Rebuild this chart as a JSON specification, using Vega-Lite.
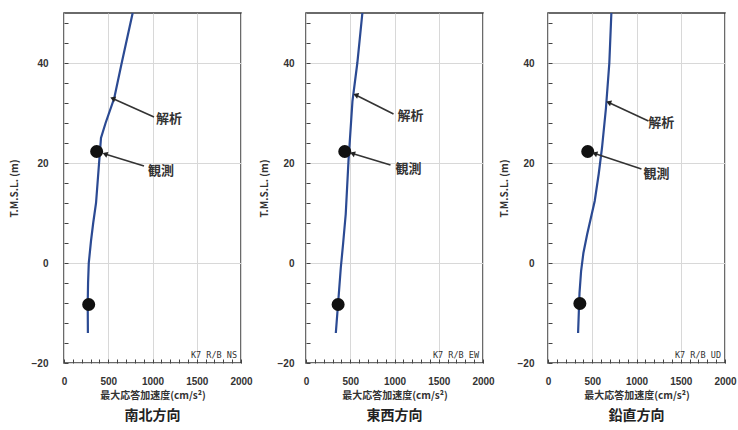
{
  "$schema": "https://vega.github.io/schema/vega-lite/v6.json",
  "background": "white",
  "padding": {"left": 8, "top": 7, "right": 0, "bottom": 0},
  "spacing": 65,
  "bounds": "flush",
  "config": {
    "view": {"stroke": "#3a3a3a", "strokeWidth": 1.5},
    "font": "Noto Sans CJK JP",
    "axis": {
      "labelFont": "Liberation Sans", "labelFontSize": 10, "labelColor": "#333", "labelFontWeight": "bold",
      "titleFont": "Noto Sans CJK JP", "titleFontSize": 10, "titleColor": "#333", "titleFontWeight": "bold",
      "domain": false, "tickColor": "#444", "tickSize": -4, "tickWidth": 1, "format": "d",
      "gridColor": "#d8d8d8", "gridWidth": 1
    },
    "title": {"orient": "bottom", "font": "Noto Sans CJK JP", "fontSize": 14, "fontWeight": "bold", "color": "#222", "offset": 9}
  },
  "datasets": {
    "curve": [
      {"dir": "NS", "ord": 1, "acc": 776, "elev": 50},
      {"dir": "NS", "ord": 2, "acc": 652, "elev": 40},
      {"dir": "NS", "ord": 3, "acc": 568, "elev": 33},
      {"dir": "NS", "ord": 4, "acc": 470, "elev": 28},
      {"dir": "NS", "ord": 5, "acc": 418, "elev": 25},
      {"dir": "NS", "ord": 6, "acc": 392, "elev": 19},
      {"dir": "NS", "ord": 7, "acc": 362, "elev": 12},
      {"dir": "NS", "ord": 8, "acc": 330, "elev": 8},
      {"dir": "NS", "ord": 9, "acc": 305, "elev": 4.4},
      {"dir": "NS", "ord": 10, "acc": 280, "elev": 0},
      {"dir": "NS", "ord": 11, "acc": 272, "elev": -4},
      {"dir": "NS", "ord": 12, "acc": 268, "elev": -8},
      {"dir": "NS", "ord": 13, "acc": 270, "elev": -14},
      {"dir": "EW", "ord": 1, "acc": 637, "elev": 50},
      {"dir": "EW", "ord": 2, "acc": 580, "elev": 40},
      {"dir": "EW", "ord": 3, "acc": 525, "elev": 32.4},
      {"dir": "EW", "ord": 4, "acc": 480, "elev": 20.4},
      {"dir": "EW", "ord": 5, "acc": 449, "elev": 9.8},
      {"dir": "EW", "ord": 6, "acc": 420, "elev": 4},
      {"dir": "EW", "ord": 7, "acc": 393, "elev": -1},
      {"dir": "EW", "ord": 8, "acc": 363, "elev": -8},
      {"dir": "EW", "ord": 9, "acc": 337, "elev": -14},
      {"dir": "UD", "ord": 1, "acc": 716, "elev": 50},
      {"dir": "UD", "ord": 2, "acc": 693, "elev": 40},
      {"dir": "UD", "ord": 3, "acc": 655, "elev": 31},
      {"dir": "UD", "ord": 4, "acc": 610, "elev": 23},
      {"dir": "UD", "ord": 5, "acc": 573, "elev": 17.8},
      {"dir": "UD", "ord": 6, "acc": 528, "elev": 12.4},
      {"dir": "UD", "ord": 7, "acc": 442, "elev": 5.7},
      {"dir": "UD", "ord": 8, "acc": 400, "elev": 2},
      {"dir": "UD", "ord": 9, "acc": 374, "elev": -1.6},
      {"dir": "UD", "ord": 10, "acc": 356, "elev": -6},
      {"dir": "UD", "ord": 11, "acc": 348, "elev": -10},
      {"dir": "UD", "ord": 12, "acc": 340, "elev": -14}
    ],
    "obs": [
      {"dir": "NS", "acc": 369, "elev": 22.3},
      {"dir": "NS", "acc": 279, "elev": -8.3},
      {"dir": "EW", "acc": 438, "elev": 22.3},
      {"dir": "EW", "acc": 363, "elev": -8.3},
      {"dir": "UD", "acc": 449, "elev": 22.3},
      {"dir": "UD", "acc": 360, "elev": -8.1}
    ],
    "notes": [
      {"dir": "NS", "label": "解析", "tipx": 550, "tipy": 32.9, "tailx": 1017, "taily": 29.2, "textx": 1186, "texty": 28.8},
      {"dir": "NS", "label": "観測", "tipx": 463, "tipy": 21.8, "tailx": 904, "taily": 19.4, "textx": 1096, "texty": 18.4},
      {"dir": "EW", "label": "解析", "tipx": 562, "tipy": 33.6, "tailx": 989, "taily": 29.8, "textx": 1180, "texty": 29.4},
      {"dir": "EW", "label": "観測", "tipx": 525, "tipy": 21.9, "tailx": 955, "taily": 19.6, "textx": 1157, "texty": 18.8},
      {"dir": "UD", "label": "解析", "tipx": 685, "tipy": 32.1, "tailx": 1135, "taily": 28.4, "textx": 1281, "texty": 28},
      {"dir": "UD", "label": "観測", "tipx": 528, "tipy": 21.9, "tailx": 1056, "taily": 18.8, "textx": 1225, "texty": 17.8}
    ],
    "tags": [
      {"dir": "NS", "tag": "K7 R/B NS"},
      {"dir": "EW", "tag": "K7 R/B EW"},
      {"dir": "UD", "tag": "K7 R/B UD"}
    ]
  },
  "hconcat": [
    {
      "width": 177, "height": 350,
      "title": "南北方向",
      "encoding": {
        "x": {"type": "quantitative", "scale": {"domain": [0, 2000], "nice": false},
              "axis": {"title": "最大応答加速度(cm/s²)", "values": [0,100,200,300,400,500,600,700,800,900,1000,1100,1200,1300,1400,1500,1600,1700,1800,1900,2000],
                       "labelExpr": "datum.value % 500 === 0 ? datum.label : ''",
                       "gridOpacity": {"condition": {"test": "datum.value % 500 === 0", "value": 1}, "value": 0},
                       "labelPadding": 17, "titlePadding": 4, "labelFlush": false}},
        "y": {"type": "quantitative", "scale": {"domain": [-20, 50], "nice": false},
              "axis": {"title": "T.M.S.L. (m)", "values": [-20,-16,-12,-8,-4,0,4,8,12,16,20,24,28,32,36,40,44,48],
                       "labelExpr": "datum.value % 20 === 0 ? datum.label : ''",
                       "gridOpacity": {"condition": {"test": "datum.value % 20 === 0", "value": 1}, "value": 0},
                       "labelPadding": 20, "titlePadding": 12, "labelFlush": false}}
      },
      "layer": [
        {"data": {"name": "curve"}, "transform": [{"filter": "datum.dir === 'NS'"}],
         "mark": {"type": "line", "color": "#2b4a93", "strokeWidth": 2.2},
         "encoding": {"x": {"field": "acc"}, "y": {"field": "elev"}, "order": {"field": "ord"}}},
        {"data": {"name": "obs"}, "transform": [{"filter": "datum.dir === 'NS'"}],
         "mark": {"type": "circle", "color": "#111", "opacity": 1, "size": 170},
         "encoding": {"x": {"field": "acc"}, "y": {"field": "elev"}}},
        {"data": {"name": "notes"}, "transform": [{"filter": "datum.dir === 'NS'"}],
         "mark": {"type": "rule", "color": "#333", "strokeWidth": 1.6},
         "encoding": {"x": {"field": "tailx"}, "y": {"field": "taily"}, "x2": {"field": "tipx"}, "y2": {"field": "tipy"}}},
        {"data": {"name": "notes"}, "transform": [{"filter": "datum.dir === 'NS'"}],
         "mark": {"type": "point", "shape": "triangle-up", "filled": true, "color": "#222", "opacity": 1, "size": 35, "angle": 290},
         "encoding": {"x": {"field": "tipx"}, "y": {"field": "tipy"}}},
        {"data": {"name": "notes"}, "transform": [{"filter": "datum.dir === 'NS'"}],
         "mark": {"type": "text", "font": "Noto Sans CJK JP", "fontSize": 13, "fontWeight": "bold", "color": "#333", "align": "center", "baseline": "middle"},
         "encoding": {"x": {"field": "textx"}, "y": {"field": "texty"}, "text": {"field": "label"}}},
        {"data": {"name": "tags"}, "transform": [{"filter": "datum.dir === 'NS'"}],
         "mark": {"type": "text", "font": "DejaVu Sans Mono", "fontSize": 8.5, "color": "#333", "align": "right", "baseline": "bottom", "dx": -4, "dy": -3},
         "encoding": {"x": {"datum": 2000}, "y": {"datum": -20}, "text": {"field": "tag"}}}
      ]
    },
    {
      "width": 177, "height": 350,
      "title": "東西方向",
      "encoding": {
        "x": {"type": "quantitative", "scale": {"domain": [0, 2000], "nice": false},
              "axis": {"title": "最大応答加速度(cm/s²)", "values": [0,100,200,300,400,500,600,700,800,900,1000,1100,1200,1300,1400,1500,1600,1700,1800,1900,2000],
                       "labelExpr": "datum.value % 500 === 0 ? datum.label : ''",
                       "gridOpacity": {"condition": {"test": "datum.value % 500 === 0", "value": 1}, "value": 0},
                       "labelPadding": 17, "titlePadding": 4, "labelFlush": false}},
        "y": {"type": "quantitative", "scale": {"domain": [-20, 50], "nice": false},
              "axis": {"title": "T.M.S.L. (m)", "values": [-20,-16,-12,-8,-4,0,4,8,12,16,20,24,28,32,36,40,44,48],
                       "labelExpr": "datum.value % 20 === 0 ? datum.label : ''",
                       "gridOpacity": {"condition": {"test": "datum.value % 20 === 0", "value": 1}, "value": 0},
                       "labelPadding": 16, "titlePadding": 8, "labelFlush": false}}
      },
      "layer": [
        {"data": {"name": "curve"}, "transform": [{"filter": "datum.dir === 'EW'"}],
         "mark": {"type": "line", "color": "#2b4a93", "strokeWidth": 2.2},
         "encoding": {"x": {"field": "acc"}, "y": {"field": "elev"}, "order": {"field": "ord"}}},
        {"data": {"name": "obs"}, "transform": [{"filter": "datum.dir === 'EW'"}],
         "mark": {"type": "circle", "color": "#111", "opacity": 1, "size": 170},
         "encoding": {"x": {"field": "acc"}, "y": {"field": "elev"}}},
        {"data": {"name": "notes"}, "transform": [{"filter": "datum.dir === 'EW'"}],
         "mark": {"type": "rule", "color": "#333", "strokeWidth": 1.6},
         "encoding": {"x": {"field": "tailx"}, "y": {"field": "taily"}, "x2": {"field": "tipx"}, "y2": {"field": "tipy"}}},
        {"data": {"name": "notes"}, "transform": [{"filter": "datum.dir === 'EW'"}],
         "mark": {"type": "point", "shape": "triangle-up", "filled": true, "color": "#222", "opacity": 1, "size": 35, "angle": 290},
         "encoding": {"x": {"field": "tipx"}, "y": {"field": "tipy"}}},
        {"data": {"name": "notes"}, "transform": [{"filter": "datum.dir === 'EW'"}],
         "mark": {"type": "text", "font": "Noto Sans CJK JP", "fontSize": 13, "fontWeight": "bold", "color": "#333", "align": "center", "baseline": "middle"},
         "encoding": {"x": {"field": "textx"}, "y": {"field": "texty"}, "text": {"field": "label"}}},
        {"data": {"name": "tags"}, "transform": [{"filter": "datum.dir === 'EW'"}],
         "mark": {"type": "text", "font": "DejaVu Sans Mono", "fontSize": 8.5, "color": "#333", "align": "right", "baseline": "bottom", "dx": -4, "dy": -3},
         "encoding": {"x": {"datum": 2000}, "y": {"datum": -20}, "text": {"field": "tag"}}}
      ]
    },
    {
      "width": 177, "height": 350,
      "title": "鉛直方向",
      "encoding": {
        "x": {"type": "quantitative", "scale": {"domain": [0, 2000], "nice": false},
              "axis": {"title": "最大応答加速度(cm/s²)", "values": [0,100,200,300,400,500,600,700,800,900,1000,1100,1200,1300,1400,1500,1600,1700,1800,1900,2000],
                       "labelExpr": "datum.value % 500 === 0 ? datum.label : ''",
                       "gridOpacity": {"condition": {"test": "datum.value % 500 === 0", "value": 1}, "value": 0},
                       "labelPadding": 17, "titlePadding": 4, "labelFlush": false}},
        "y": {"type": "quantitative", "scale": {"domain": [-20, 50], "nice": false},
              "axis": {"title": "T.M.S.L. (m)", "values": [-20,-16,-12,-8,-4,0,4,8,12,16,20,24,28,32,36,40,44,48],
                       "labelExpr": "datum.value % 20 === 0 ? datum.label : ''",
                       "gridOpacity": {"condition": {"test": "datum.value % 20 === 0", "value": 1}, "value": 0},
                       "labelPadding": 18, "titlePadding": 8, "labelFlush": false}}
      },
      "layer": [
        {"data": {"name": "curve"}, "transform": [{"filter": "datum.dir === 'UD'"}],
         "mark": {"type": "line", "color": "#2b4a93", "strokeWidth": 2.2},
         "encoding": {"x": {"field": "acc"}, "y": {"field": "elev"}, "order": {"field": "ord"}}},
        {"data": {"name": "obs"}, "transform": [{"filter": "datum.dir === 'UD'"}],
         "mark": {"type": "circle", "color": "#111", "opacity": 1, "size": 170},
         "encoding": {"x": {"field": "acc"}, "y": {"field": "elev"}}},
        {"data": {"name": "notes"}, "transform": [{"filter": "datum.dir === 'UD'"}],
         "mark": {"type": "rule", "color": "#333", "strokeWidth": 1.6},
         "encoding": {"x": {"field": "tailx"}, "y": {"field": "taily"}, "x2": {"field": "tipx"}, "y2": {"field": "tipy"}}},
        {"data": {"name": "notes"}, "transform": [{"filter": "datum.dir === 'UD'"}],
         "mark": {"type": "point", "shape": "triangle-up", "filled": true, "color": "#222", "opacity": 1, "size": 35, "angle": 290},
         "encoding": {"x": {"field": "tipx"}, "y": {"field": "tipy"}}},
        {"data": {"name": "notes"}, "transform": [{"filter": "datum.dir === 'UD'"}],
         "mark": {"type": "text", "font": "Noto Sans CJK JP", "fontSize": 13, "fontWeight": "bold", "color": "#333", "align": "center", "baseline": "middle"},
         "encoding": {"x": {"field": "textx"}, "y": {"field": "texty"}, "text": {"field": "label"}}},
        {"data": {"name": "tags"}, "transform": [{"filter": "datum.dir === 'UD'"}],
         "mark": {"type": "text", "font": "DejaVu Sans Mono", "fontSize": 8.5, "color": "#333", "align": "right", "baseline": "bottom", "dx": -4, "dy": -3},
         "encoding": {"x": {"datum": 2000}, "y": {"datum": -20}, "text": {"field": "tag"}}}
      ]
    }
  ]
}
